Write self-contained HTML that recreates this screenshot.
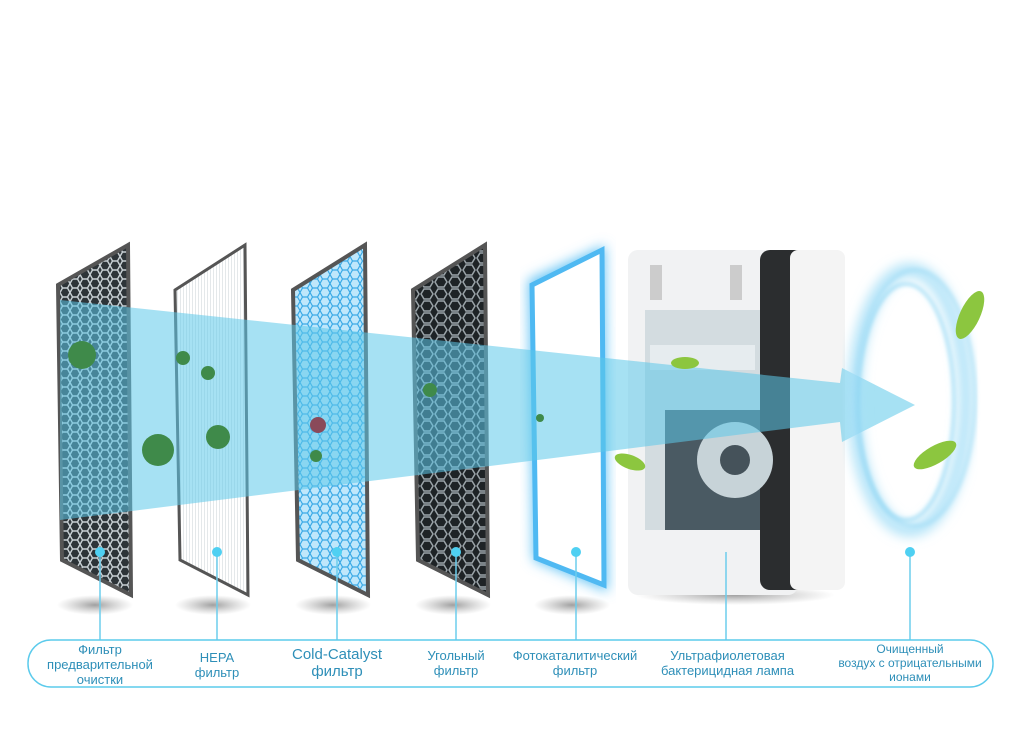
<!DOCTYPE html>
<html><head><meta charset="utf-8"><style>
html,body{margin:0;padding:0;background:#fff;width:1024px;height:737px;overflow:hidden}
svg{position:absolute;left:0;top:0}
.l{position:absolute;color:#2e8fb8;font-family:"Liberation Sans",sans-serif;text-align:center;line-height:15px;font-size:13px}
</style></head><body>
<svg width="1024" height="737" viewBox="0 0 1024 737">
<defs>
<pattern id="hex" width="10" height="9" patternUnits="userSpaceOnUse"><rect width="10" height="9" fill="#2d3438"/><path d="M0 4.5 L2.5 0 H7.5 L10 4.5 L7.5 9 H2.5Z" fill="none" stroke="#c8d0d4" stroke-width="1.4"/></pattern>
<pattern id="hex2" width="14" height="12" patternUnits="userSpaceOnUse"><rect width="14" height="12" fill="#1e2326"/><path d="M1 6 L4 1 H10 L13 6 L10 11 H4Z" fill="none" stroke="#9aa3a8" stroke-width="1.5"/></pattern>
<pattern id="hex3" width="10" height="9" patternUnits="userSpaceOnUse"><rect width="10" height="9" fill="#bfe7fb"/><path d="M0 4.5 L2.5 0 H7.5 L10 4.5 L7.5 9 H2.5Z" fill="none" stroke="#3aa9e6" stroke-width="1.2"/></pattern>
<pattern id="lines" width="3" height="3" patternUnits="userSpaceOnUse"><rect width="3" height="3" fill="#fff"/><rect width="1" height="3" fill="#e4e8ea"/></pattern>
<radialGradient id="sh"><stop offset="0" stop-color="#777" stop-opacity=".7"/><stop offset="1" stop-color="#999" stop-opacity="0"/></radialGradient>
<filter id="bl"><feGaussianBlur stdDeviation="6"/></filter>
<filter id="bl2"><feGaussianBlur stdDeviation="2"/></filter>
</defs>
<g fill="url(#sh)">
<ellipse cx="95" cy="605" rx="38" ry="10"/><ellipse cx="213" cy="605" rx="38" ry="10"/><ellipse cx="333" cy="605" rx="38" ry="10"/><ellipse cx="453" cy="605" rx="38" ry="10"/><ellipse cx="572" cy="605" rx="38" ry="10"/><ellipse cx="735" cy="595" rx="100" ry="10"/>
</g>
<polygon points="58,285 128,245 131,595 62,560" fill="url(#hex)" stroke="#555" stroke-width="4"/>
<polygon points="175,290 245,245 248,595 180,560" fill="url(#lines)" stroke="#555" stroke-width="3"/>
<polygon points="293,290 365,245 368,595 298,560" fill="url(#hex3)" stroke="#555" stroke-width="4"/>
<polygon points="413,290 485,245 488,595 418,560" fill="url(#hex2)" stroke="#555" stroke-width="4"/>
<polygon points="528,280 605,245 608,592 533,560" fill="#6bc6f5" filter="url(#bl)"/>
<polygon points="532,285 602,250 604,585 536,558" fill="#fff" stroke="#4fb9f2" stroke-width="5"/>
<rect x="628" y="250" width="170" height="345" rx="10" fill="#f1f2f3"/>
<rect x="760" y="250" width="60" height="340" rx="10" fill="#2b2d2f"/>
<rect x="790" y="250" width="55" height="340" rx="8" fill="#f4f4f4"/>
<rect x="645" y="310" width="115" height="220" fill="#d3dce0"/>
<rect x="650" y="345" width="105" height="25" fill="#e6ecef"/>
<rect x="665" y="410" width="95" height="120" fill="#4a5a63"/>
<circle cx="735" cy="460" r="38" fill="#c7d3d8"/><circle cx="735" cy="460" r="15" fill="#45525a"/>
<rect x="650" y="265" width="12" height="35" fill="#ccc"/><rect x="730" y="265" width="12" height="35" fill="#ccc"/>
<polygon points="60,300 840,383 842,368 915,405 842,442 840,422 60,520" fill="#5cc9ea" opacity=".55"/>
<g fill="#3f8a4a"><circle cx="82" cy="355" r="14"/><circle cx="158" cy="450" r="16"/><circle cx="218" cy="437" r="12"/><circle cx="183" cy="358" r="7"/><circle cx="208" cy="373" r="7"/><circle cx="316" cy="456" r="6"/><circle cx="430" cy="390" r="7"/><circle cx="540" cy="418" r="4"/></g>
<circle cx="318" cy="425" r="8" fill="#8a4a5a"/>
<ellipse cx="910" cy="400" rx="56" ry="130" fill="none" stroke="#a9e0f7" stroke-width="12" filter="url(#bl)"/>
<ellipse cx="906" cy="402" rx="48" ry="118" fill="none" stroke="#7fd0f2" stroke-width="2" filter="url(#bl2)"/>
<ellipse cx="915" cy="398" rx="60" ry="128" fill="none" stroke="#9bdaf5" stroke-width="2" filter="url(#bl2)"/>
<g fill="#8cc63f"><ellipse cx="970" cy="315" rx="10" ry="26" transform="rotate(25 970 315)"/><ellipse cx="935" cy="455" rx="24" ry="9" transform="rotate(-30 935 455)"/><ellipse cx="630" cy="462" rx="16" ry="7" transform="rotate(20 630 462)"/><ellipse cx="685" cy="363" rx="14" ry="6"/></g>
<g stroke="#6ccdec" stroke-width="1.5">
<line x1="100" y1="552" x2="100" y2="640"/><line x1="217" y1="552" x2="217" y2="640"/><line x1="337" y1="552" x2="337" y2="640"/><line x1="456" y1="552" x2="456" y2="640"/><line x1="576" y1="552" x2="576" y2="640"/><line x1="726" y1="552" x2="726" y2="640"/><line x1="910" y1="552" x2="910" y2="640"/>
</g>
<g fill="#4fd0f2"><circle cx="100" cy="552" r="5"/><circle cx="217" cy="552" r="5"/><circle cx="337" cy="552" r="5"/><circle cx="456" cy="552" r="5"/><circle cx="576" cy="552" r="5"/><circle cx="910" cy="552" r="5"/></g>
<rect x="28" y="640" width="965" height="47" rx="23" fill="none" stroke="#5ccbec" stroke-width="1.5"/>
</svg>
<div class="l" style="left:40px;top:642px;width:120px">Фильтр<br>предварительной<br>очистки</div>
<div class="l" style="left:167px;top:650px;width:100px">HEPA<br>фильтр</div>
<div class="l" style="left:277px;top:646px;width:120px;font-size:15px;line-height:17px">Cold-Catalyst<br>фильтр</div>
<div class="l" style="left:406px;top:648px;width:100px">Угольный<br>фильтр</div>
<div class="l" style="left:500px;top:648px;width:150px">Фотокаталитический<br>фильтр</div>
<div class="l" style="left:655px;top:648px;width:145px">Ультрафиолетовая<br>бактерицидная лампа</div>
<div class="l" style="left:835px;top:642px;width:150px;font-size:12px;line-height:14px">Очищенный<br>воздух с отрицательными<br>ионами</div>
</body></html>
